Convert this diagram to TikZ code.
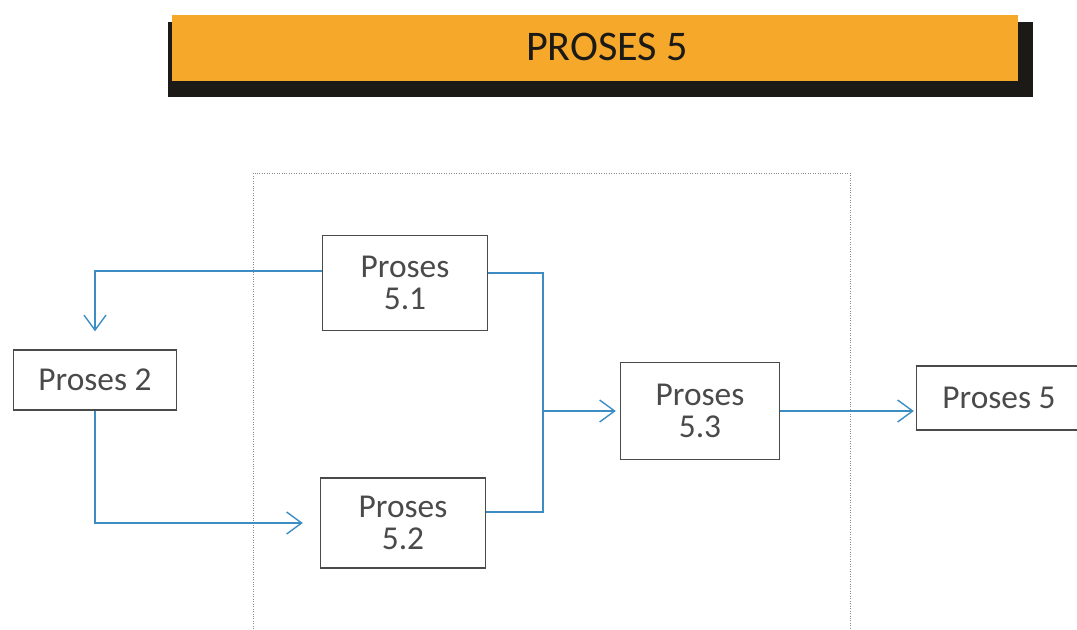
\documentclass[tikz,border=0pt]{standalone}
\usepackage{fontspec}
\setmainfont{Carlito}
\usetikzlibrary{arrows.meta,positioning,calc}
\definecolor{barOrange}{HTML}{F5A82A}
\definecolor{barShadow}{HTML}{1C1A17}
\definecolor{flowBlue}{HTML}{3D8DC4}
\definecolor{boxGray}{HTML}{4A4A4A}
\definecolor{frameGray}{HTML}{8A8A8A}
\begin{document}
\begin{tikzpicture}[
    x=0.02cm, y=-0.02cm,
    box/.style={draw=boxGray, thick, fill=white, text=boxGray, minimum width=3.3cm, minimum height=1.9cm, align=center, font=\fontsize{19}{18}\selectfont},
    flow/.style={-{Straight Barb[length=3mm, width=4.4mm]}, draw=flowBlue, thick},
    wire/.style={draw=flowBlue, thick}
  ]
    \useasboundingbox (0,0) rectangle (1077,629);
    % title bar
    \fill[barShadow] (168,22) rectangle (1033,97);
    \fill[barOrange] (172,15) rectangle (1018,81);
    \node[font=\fontsize{24}{24}\selectfont, text=barShadow] (title) at (607,47) {PROSES 5};
    % frame
    \draw[frameGray, densely dotted] (253,629) -- (253,173) -- (850,173) -- (850,629);
    % processes
    \node[box] (p51) at (405,283) {Proses\\5.1};
    \node[box, minimum width=3.26cm, minimum height=1.2cm] (p2) at (95,380) {Proses 2};
    \node[box, minimum height=1.8cm] (p52) at (403,523) {Proses\\5.2};
    \node[box, minimum width=3.18cm, minimum height=1.94cm] (p53) at (700,411) {Proses\\5.3};
    \node[box, minimum width=3.3cm, minimum height=1.28cm] (p5) at (999,398) {Proses 5};
    \coordinate (bus) at (543,411);
    \draw[flow, shorten >=0.36cm] ([yshift=0.24cm]p51.west) -| (p2.north);
    \draw[flow, shorten >=0.34cm] (p2.south) |- (p52.west);
    \draw[wire] ([yshift=0.2cm]p51.east) -| (bus) |- ([yshift=0.22cm]p52.east);
    \draw[flow, shorten >=0.08cm] (bus |- p53.west) -- (p53.west);
    \draw[flow, shorten >=0.04cm] (p53.east) -- (p53.east -| p5.west);
  \end{tikzpicture}
\end{document}
